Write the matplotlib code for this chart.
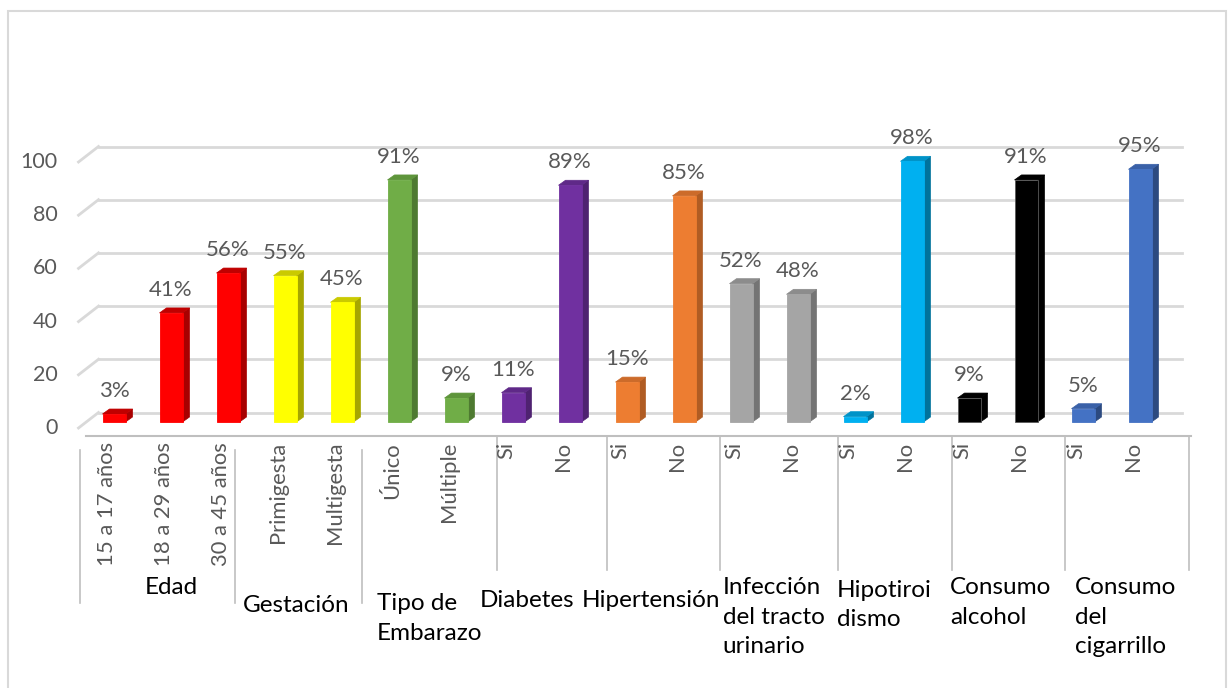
import matplotlib
matplotlib.use("Agg")
import matplotlib.pyplot as plt
from matplotlib import transforms
from matplotlib.patches import Polygon, Rectangle
from matplotlib.lines import Line2D

plt.rcParams['font.family'] = ['Lato', 'DejaVu Sans']

# ---------------- data ----------------
categories = ["15 a 17 años", "18 a 29 años", "30 a 45 años",
              "Primigesta", "Multigesta",
              "Único", "Múltiple",
              "Si", "No", "Si", "No", "Si", "No", "Si", "No", "Si", "No", "Si", "No"]
values = [3, 41, 56, 55, 45, 91, 9, 11, 89, 15, 85, 52, 48, 2, 98, 9, 91, 5, 95]
value_labels = ["3%", "41%", "56%", "55%", "45%", "91%", "9%", "11%", "89%", "15%",
                "85%", "52%", "48%", "2%", "98%", "9%", "91%", "5%", "95%"]
groups = ["Edad", "Gestación", "Tipo de\nEmbarazo", "Diabetes", "Hipertensión",
          "Infección\ndel tracto\nurinario", "Hipotiroi\ndismo", "Consumo\nalcohol",
          "Consumo\ndel\ncigarrillo"]
group_sizes = [3, 2, 2, 2, 2, 2, 2, 2, 2]
y_ticks = [0, 20, 40, 60, 80, 100]

# ---------------- styles ----------------
# (front, side, top) colours per group
group_colors = [("#FF0000", "#A80000", "#C00000"),
                ("#FFFF00", "#A6A600", "#CACA00"),
                ("#70AD47", "#4E7A31", "#5E953B"),
                ("#7030A0", "#4F2271", "#5F2988"),
                ("#ED7D31", "#B05C23", "#CC6B2A"),
                ("#A5A5A5", "#747474", "#8C8C8C"),
                ("#00B0F0", "#00729C", "#0093C8"),
                ("#000000", "#000000", "#000000"),
                ("#4472C4", "#2C4A80", "#3A61A8")]
# group label layout: (x in category units, y of text top in px from top, ha)
group_label_pos = [(1.0, 577, "center"), (3.2, 595, "center"), (4.61, 593, "left"),
                   (6.42, 590, "left"), (8.21, 590, "left"), (10.68, 577, "left"),
                   (12.68, 580, "left"), (14.67, 577, "left"), (16.86, 577, "left")]
sep_long = [-0.6, 2.12, 4.35]
sep_short = [6.72, 8.65, 10.63, 12.70, 14.70, 16.68, 18.86]

W, H, DPI = 1232, 688, 100
fig = plt.figure(figsize=(W / DPI, H / DPI), dpi=DPI)
fig.patch.set_facecolor("white")

# axes: front plane of bars. x: -0.5..18.5 -> 85.5..1168.5 px ; y: 0..100 -> 422..156 px
x0_px, x1_px = 85.5, 1168.5
y0_px, y1_px = 422, 156
ax = fig.add_axes([x0_px / W, (H - y0_px) / H, (x1_px - x0_px) / W, (y0_px - y1_px) / H])
ax.set_xlim(-0.5, len(categories) - 0.5)
ax.set_ylim(0, 100)
ax.axis("off")

def off(dx, dy, base=None):
    """offset transform in pixels (dy positive = downwards)"""
    base = ax.transData if base is None else base
    return base + transforms.ScaledTranslation(dx / DPI, -dy / DPI, fig.dpi_scale_trans)

ytop = transforms.Affine2D().scale(1, -1).translate(0, H)
xdata_ytop = transforms.blended_transform_factory(ax.transData, ytop)

# pixel -> data unit conversions
ppx = (x1_px - x0_px) / len(categories)
ppy = (y0_px - y1_px) / 100.0

grid_c = "#D9D9D9"
# back wall gridlines + left wall diagonals
back = (13, -9.5)
front = (-7, 6)
for v in y_ticks:
    ax.add_line(Line2D([-0.5, len(categories) - 0.5], [v, v], color=grid_c, lw=2,
                       transform=off(*back), clip_on=False, zorder=1))
    ddx = (back[0] - front[0]) / ppx
    ddy = -(back[1] - front[1]) / ppy
    ax.add_line(Line2D([-0.5, -0.5 + ddx], [v, v + ddy], color=grid_c, lw=2,
                       transform=off(*front), clip_on=False, zorder=1))

# y tick labels
for v in y_ticks:
    ax.text(-0.5, v, str(v), transform=off(-28, 6), ha="right", va="center",
            fontsize=15.5, color="#595959", clip_on=False)

# bar colours
front_cols, side_cols, top_cols = [], [], []
for (fc, sc, tc), n in zip(group_colors, group_sizes):
    front_cols += [fc] * n
    side_cols += [sc] * n
    top_cols += [tc] * n

xs = list(range(len(categories)))
bw = 23 / ppx
dxd = 7 / ppx
dyd = 5 / ppy
ax.bar(xs, values, width=bw, color=front_cols, zorder=3, clip_on=False,
       edgecolor=["#595959" if c == "#000000" else c for c in front_cols], linewidth=0.6)
for x, v, sc, tc in zip(xs, values, side_cols, top_cols):
    r = x + bw / 2
    l = x - bw / 2
    ax.add_patch(Polygon([(r, 0), (r, v), (r + dxd, v + dyd), (r + dxd, dyd)], closed=True,
                         facecolor=sc, edgecolor=sc, lw=0.5, zorder=2, clip_on=False))
    ax.add_patch(Polygon([(l, v), (r, v), (r + dxd, v + dyd), (l + dxd, v + dyd)], closed=True,
                         facecolor=tc, edgecolor=tc, lw=0.5, zorder=2, clip_on=False))

# data labels
for x, v, t in zip(xs, values, value_labels):
    ax.annotate(t, (x, v), xytext=(0, 17), textcoords="offset pixels", ha="center",
                va="baseline", fontsize=16, color="#595959", annotation_clip=False)

# category axis line
ax.add_line(Line2D([-0.5, len(categories) - 0.5 + 22 / ppx], [0, 0], color="#BFBFBF", lw=1.5,
                   transform=off(0, 14), clip_on=False))

# category labels (rotated)
for x, c in zip(xs, categories):
    ax.text(x, 442, c, transform=off(-7, 0, xdata_ytop), rotation=90, ha="center", va="top",
            fontsize=15.8, color="#595959", clip_on=False)

# group separators
for s in sep_long:
    ax.add_line(Line2D([s, s], [450, 603], color="#BFBFBF", lw=1.2, transform=xdata_ytop,
                       clip_on=False))
for s in sep_short:
    ax.add_line(Line2D([s, s], [437, 570], color="#BFBFBF", lw=1.2, transform=xdata_ytop,
                       clip_on=False))

# group labels
for g, (gx, gy, ha) in zip(groups, group_label_pos):
    ax.text(gx, gy, g, transform=xdata_ytop, ha=ha, va="top", fontsize=17.5, color="black",
            linespacing=1.5, multialignment="left", clip_on=False)

# chart border
fig.patches.append(Rectangle((8, H - 700), 1218, 700 - 11, transform=None, fill=False,
                             edgecolor="#D9D9D9", lw=1.5))

fig.savefig("out.png", dpi=DPI, facecolor="white")
